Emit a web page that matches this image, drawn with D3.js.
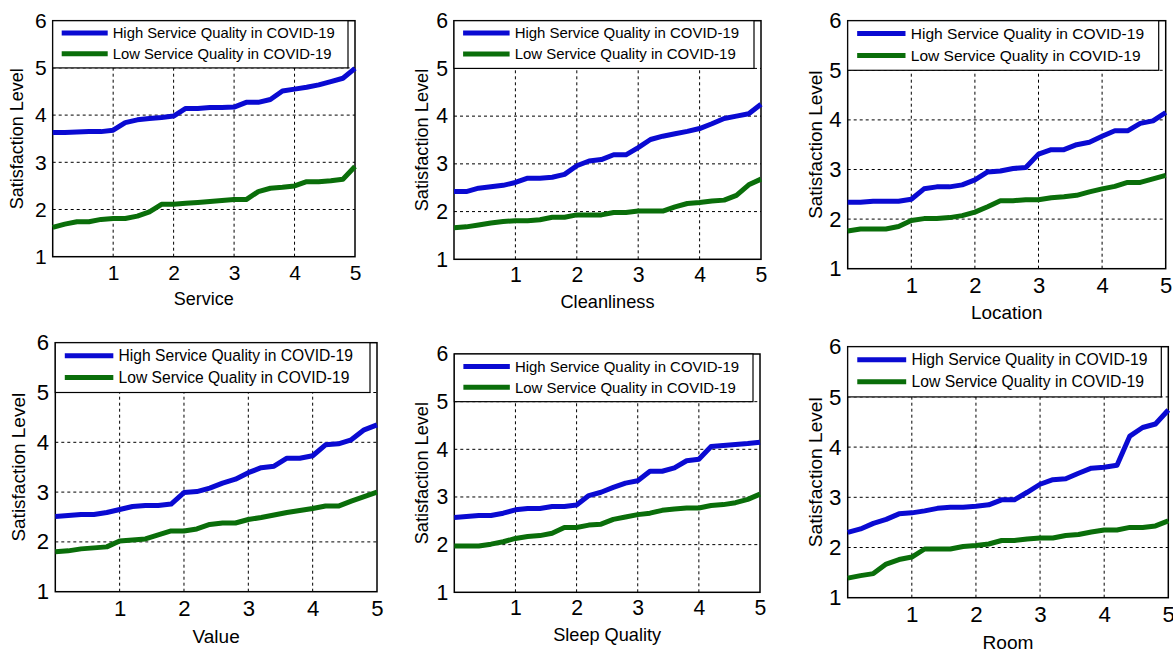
<!DOCTYPE html>
<html>
<head>
<meta charset="utf-8">
<script src="https://cdn.jsdelivr.net/npm/d3@7"></script>
<style>
  body { margin: 0; background: #fff; }
  text { font-family: "Liberation Sans", Arial, sans-serif; fill: #000; }
</style>
</head>
<body>
<svg id="chart" width="1173" height="653"></svg>
<script>
// x positions shared by every panel
const xValues = [0, 0.2, 0.4, 0.6, 0.8, 1, 1.2, 1.4, 1.6, 1.8, 2, 2.2, 2.4, 2.6, 2.8, 3, 3.2, 3.4, 3.6, 3.8, 4, 4.2, 4.4, 4.6, 4.8, 5]
const xTicks = [1, 2, 3, 4, 5]
const yTicks = [1, 2, 3, 4, 5, 6]
const categories = ['Service', 'Cleanliness', 'Location', 'Value', 'Sleep Quality', 'Room']
const seriesNames = ['High Service Quality in COVID-19', 'Low Service Quality in COVID-19']
const seriesColors = ['#0a0ad2', '#0a6e0a']

const serviceHigh = [3.63, 3.63, 3.64, 3.65, 3.65, 3.68, 3.84, 3.9, 3.93, 3.95, 3.98, 4.14, 4.14, 4.16, 4.16, 4.17, 4.27, 4.27, 4.33, 4.51, 4.55, 4.59, 4.64, 4.71, 4.78, 4.99]
const serviceLow = [1.62, 1.69, 1.74, 1.74, 1.79, 1.81, 1.81, 1.86, 1.95, 2.11, 2.11, 2.13, 2.15, 2.17, 2.19, 2.21, 2.21, 2.38, 2.45, 2.47, 2.5, 2.59, 2.59, 2.61, 2.64, 2.91]
const cleanHigh = [2.42, 2.42, 2.49, 2.52, 2.55, 2.61, 2.7, 2.7, 2.72, 2.78, 2.96, 3.06, 3.09, 3.19, 3.19, 3.34, 3.51, 3.58, 3.63, 3.68, 3.74, 3.84, 3.95, 4.0, 4.05, 4.25]
const cleanLow = [1.66, 1.68, 1.72, 1.76, 1.79, 1.81, 1.81, 1.83, 1.88, 1.88, 1.93, 1.93, 1.93, 1.98, 1.98, 2.01, 2.01, 2.01, 2.1, 2.17, 2.19, 2.22, 2.24, 2.34, 2.56, 2.68]
const locationHigh = [2.34, 2.34, 2.36, 2.36, 2.36, 2.4, 2.61, 2.65, 2.65, 2.69, 2.79, 2.95, 2.97, 3.02, 3.04, 3.31, 3.4, 3.4, 3.5, 3.55, 3.67, 3.78, 3.78, 3.93, 3.98, 4.15]
const locationLow = [1.76, 1.8, 1.8, 1.8, 1.85, 1.97, 2.01, 2.01, 2.03, 2.07, 2.14, 2.25, 2.37, 2.37, 2.39, 2.39, 2.43, 2.45, 2.48, 2.55, 2.61, 2.66, 2.74, 2.74, 2.81, 2.88]
const valueHigh = [2.51, 2.53, 2.55, 2.55, 2.59, 2.65, 2.71, 2.73, 2.73, 2.76, 2.99, 3.01, 3.08, 3.18, 3.26, 3.39, 3.49, 3.52, 3.68, 3.68, 3.73, 3.95, 3.97, 4.05, 4.25, 4.35]
const valueLow = [1.8, 1.82, 1.86, 1.88, 1.9, 2.02, 2.04, 2.06, 2.14, 2.22, 2.22, 2.26, 2.35, 2.38, 2.38, 2.45, 2.49, 2.54, 2.59, 2.63, 2.67, 2.72, 2.72, 2.82, 2.91, 3.0]
const sleepHigh = [2.57, 2.59, 2.61, 2.61, 2.66, 2.73, 2.76, 2.76, 2.8, 2.8, 2.83, 3.03, 3.1, 3.2, 3.29, 3.34, 3.54, 3.54, 3.61, 3.76, 3.79, 4.06, 4.08, 4.1, 4.12, 4.15]
const sleepLow = [1.97, 1.97, 1.97, 2.01, 2.06, 2.13, 2.17, 2.19, 2.24, 2.36, 2.36, 2.41, 2.43, 2.53, 2.58, 2.63, 2.66, 2.72, 2.75, 2.77, 2.77, 2.82, 2.84, 2.88, 2.95, 3.06]
const roomHigh = [2.3, 2.37, 2.48, 2.56, 2.67, 2.69, 2.73, 2.78, 2.8, 2.8, 2.82, 2.85, 2.95, 2.95, 3.1, 3.26, 3.35, 3.37, 3.48, 3.58, 3.6, 3.64, 4.22, 4.39, 4.46, 4.74]
const roomLow = [1.39, 1.44, 1.48, 1.67, 1.76, 1.81, 1.97, 1.97, 1.97, 2.02, 2.04, 2.07, 2.14, 2.14, 2.17, 2.19, 2.19, 2.24, 2.26, 2.31, 2.35, 2.35, 2.4, 2.4, 2.43, 2.53]

const highSeries = [serviceHigh, cleanHigh, locationHigh, valueHigh, sleepHigh, roomHigh]
const lowSeries = [serviceLow, cleanLow, locationLow, valueLow, sleepLow, roomLow]

// plot frames in page pixels (the source figure panels are not all the same size)
const frames = [
	{ left: 52.7, right: 355, top: 20.7, bottom: 256.7, labelX: 17 },
	{ left: 454, right: 761, top: 20.7, bottom: 259.3, labelX: 421.7 },
	{ left: 847.7, right: 1165.7, top: 20.7, bottom: 268.7, labelX: 815 },
	{ left: 55.3, right: 377, top: 342.7, bottom: 591.7, labelX: 18.3 },
	{ left: 454.3, right: 760, top: 354, bottom: 592.3, labelX: 421.7 },
	{ left: 847.7, right: 1168.3, top: 346.7, bottom: 597.7, labelX: 815 },
]

const svg = d3.select('#chart')

frames.forEach((f, i) => {
	const s = (f.bottom - f.top) / 236
	const x = d3.scaleLinear().domain([0, 5]).range([f.left, f.right])
	const y = d3.scaleLinear().domain([1, 6]).range([f.bottom, f.top])
	const g = svg.append('g')

	// dashed grid
	g.selectAll('line.gx')
		.data(xTicks.slice(0, -1))
		.enter()
		.append('line')
		.attr('x1', d => x(d)).attr('x2', d => x(d))
		.attr('y1', f.bottom).attr('y2', f.top)
		.attr('stroke', '#000').attr('stroke-width', 1)
		.attr('stroke-dasharray', '3,3')
	g.selectAll('line.gy')
		.data(yTicks.slice(1, -1))
		.enter()
		.append('line')
		.attr('x1', f.left).attr('x2', f.right)
		.attr('y1', d => y(d)).attr('y2', d => y(d))
		.attr('stroke', '#000').attr('stroke-width', 1)
		.attr('stroke-dasharray', '3,3')

	// axes (tick labels only, no tick marks)
	const xAxis = g.append('g')
		.attr('transform', `translate(0,${f.bottom})`)
		.call(d3.axisBottom(x).tickValues(xTicks).tickFormat(d3.format('d')).tickSize(0).tickPadding(8 * s))
	const yAxis = g.append('g')
		.attr('transform', `translate(${f.left},0)`)
		.call(d3.axisLeft(y).tickValues(yTicks).tickFormat(d3.format('d')).tickSize(0).tickPadding(6 * s))
	;[xAxis, yAxis].forEach(a => {
		a.select('.domain').remove()
		a.selectAll('text')
			.attr('fill', '#000')
			.style('font-family', '"Liberation Sans", Arial, sans-serif')
			.style('font-size', (21 * s) + 'px')
	})

	// box
	g.append('rect')
		.attr('x', f.left).attr('y', f.top)
		.attr('width', f.right - f.left).attr('height', f.bottom - f.top)
		.attr('fill', 'none').attr('stroke', '#000').attr('stroke-width', 1.5)

	// series lines
	const line = d3.line()
		.x(d => x(d[0]))
		.y(d => y(d[1]))
	;[highSeries[i], lowSeries[i]].forEach((vals, k) => {
		g.append('path')
			.datum(vals.map((v, j) => [xValues[j], v]))
			.attr('fill', 'none')
			.attr('stroke', seriesColors[k])
			.attr('stroke-width', 5)
			.attr('stroke-linejoin', 'round')
			.attr('d', line)
	})

	// legend (covers the band between 5 and 6)
	const lTop = y(6), lBot = y(5), lh = lBot - lTop
	const lw = f.right - f.left - 7
	g.append('rect')
		.attr('x', f.left).attr('y', lTop)
		.attr('width', lw).attr('height', lh)
		.attr('fill', '#fff').attr('stroke', '#000').attr('stroke-width', 1.2)
	seriesNames.forEach((name, k) => {
		const ry = lTop + lh * (k === 0 ? 0.26 : 0.70)
		g.append('line')
			.attr('x1', f.left + 9 * s).attr('x2', f.left + 55 * s)
			.attr('y1', ry).attr('y2', ry)
			.attr('stroke', seriesColors[k]).attr('stroke-width', 5)
		g.append('text')
			.attr('x', f.left + 60 * s).attr('y', ry)
			.attr('dy', '0.35em')
			.style('font-size', (14.8 * s) + 'px')
			.text(name)
	})

	// axis titles
	g.append('text')
		.attr('x', (f.left + f.right) / 2)
		.attr('y', f.bottom + 42 * s)
		.attr('dy', '0.35em')
		.attr('text-anchor', 'middle')
		.style('font-size', (18 * s) + 'px')
		.text(categories[i])
	g.append('text')
		.attr('transform', `translate(${f.labelX},${(f.top + f.bottom) / 2}) rotate(-90)`)
		.attr('dy', '0.35em')
		.attr('text-anchor', 'middle')
		.style('font-size', (18 * s) + 'px')
		.text('Satisfaction Level')
})
</script>
</body>
</html>
